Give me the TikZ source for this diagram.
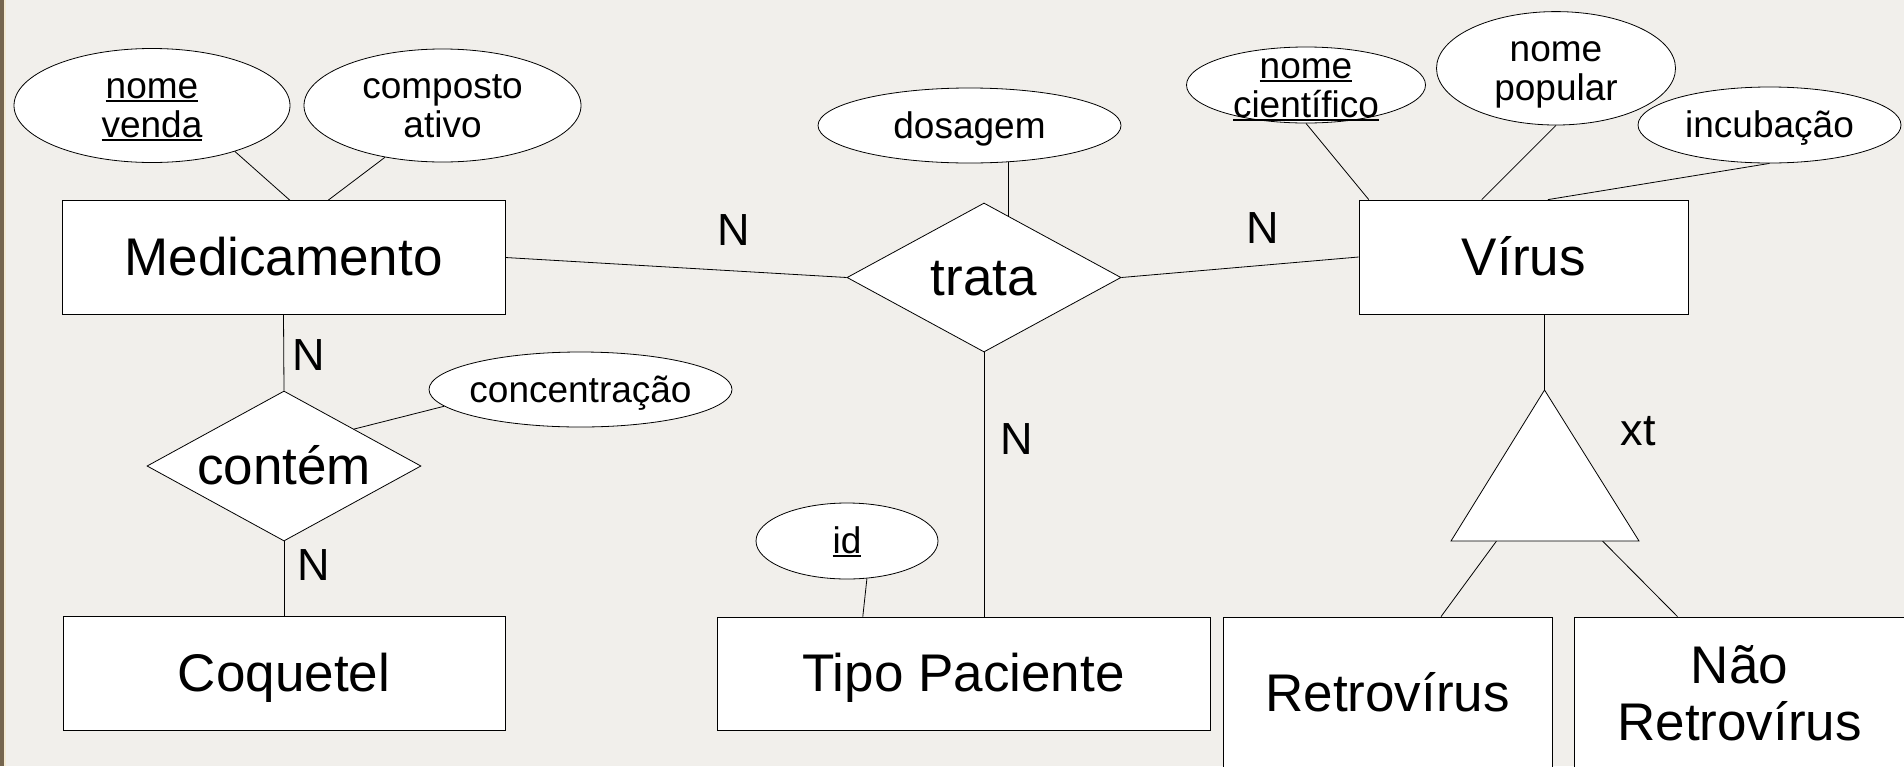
\documentclass[tikz,border=0pt]{standalone}
\usepackage{fontspec}
\setmainfont{Liberation Sans}
\usetikzlibrary{shapes.geometric,calc}
\pgfdeclarelayer{bg}
\pgfsetlayers{bg,main}
\definecolor{paper}{HTML}{F1EFEB}
\definecolor{strip}{HTML}{75654E}
\definecolor{cream}{HTML}{F4EAD2}
\newcommand\entfont{\fontsize{26.5pt}{29pt}\selectfont}
\newcommand\attrfont{\fontsize{18.5pt}{19.5pt}\selectfont}
\newcommand\cardfont{\fontsize{22.5pt}{26pt}\selectfont}
\newcommand\tstrut{\rule{0pt}{0.905em}}
\newcommand\bstrut{\rule[-0.212em]{0pt}{0.212em}}
\newcommand\myul[1]{\setbox0=\hbox{#1}\rlap{\rule[-0.09em]{\wd0}{0.05em}}\box0}
\begin{document}
\begin{tikzpicture}[x=0.5pt,y=-0.5pt,line width=0.5pt,
  ent/.style={draw, fill=white, inner sep=0pt, align=center, font=\entfont},
  attr/.style={ellipse, draw, fill=white, inner sep=0pt},
  atext/.style={font=\attrfont, align=center, inner sep=0pt},
  rel/.style={diamond, draw, fill=white, inner sep=0pt},
  rtext/.style={font=\entfont, inner sep=0pt},
  card/.style={font=\cardfont, inner sep=0pt}]
\useasboundingbox (0,0) rectangle (1904,766);
\begin{pgfonlayer}{bg}
\fill[paper] (0,0) rectangle (1904,766);
\fill[strip] (0,0) rectangle (4,766);
\fill[cream] (4,0) rectangle (6,766);
\end{pgfonlayer}

% entities
\node[ent, minimum width=221.5pt, minimum height=56.75pt] (med) at (283.5,257.5) {\tstrut Medicamento\bstrut};
\node[ent, minimum width=221pt, minimum height=57pt] (coq) at (284,673) {\tstrut Coquetel\bstrut};
\node[ent, minimum width=246.5pt, minimum height=56.5pt] (tipo) at (963.5,673.5) {\tstrut Tipo Paciente\bstrut};
\node[ent, minimum width=164.75pt, minimum height=57pt] (vir) at (1523.75,257) {\tstrut Vírus\bstrut};
\node[ent, minimum width=164.5pt, minimum height=76.5pt] (retro) at (1387.5,693.5) {\tstrut Retrovírus\bstrut};
\node[ent, minimum width=165.5pt, minimum height=76.5pt, font=\fontsize{26.5pt}{28.7pt}\selectfont] (nret) at (1739.5,693.5) {\tstrut Não\\Retrovírus\bstrut};

% relationships
\node[rel, minimum width=137pt, minimum height=74.5pt, label={[rtext]center:\tstrut trata\bstrut}] (trata) at (984,277.5) {};
\node[rel, minimum width=137pt, minimum height=75pt, label={[rtext]center:\tstrut contém\bstrut}] (contem) at (284,466) {};

% attributes
\node[attr, minimum width=138pt, minimum height=57pt, label={[atext]center:{\tstrut\myul{nome}\\\myul{venda}\bstrut}}] (nv) at (152,105.5) {};
\node[attr, minimum width=138.5pt, minimum height=56.5pt, label={[atext]center:{\tstrut composto\\ativo\bstrut}}] (ca) at (442.5,105.5) {};
\node[attr, minimum width=151.5pt, minimum height=37.5pt, label={[atext]center:{\tstrut concentração\bstrut}}] (conc) at (580.5,389.5) {};
\node[attr, minimum width=151.5pt, minimum height=37.5pt, label={[atext]center:{\tstrut dosagem\bstrut}}] (dos) at (969.5,125.5) {};
\node[attr, minimum width=119.5pt, minimum height=38pt, label={[atext]center:{\tstrut\myul{nome}\\\myul{científico}\bstrut}}] (nc) at (1306,85) {};
\node[attr, minimum width=119.5pt, minimum height=56.7pt, label={[atext]center:{\tstrut nome\\popular\bstrut}}] (np) at (1556,68.3) {};
\node[attr, minimum width=131.5pt, minimum height=38pt, label={[atext]center:{\tstrut incubação\bstrut}}] (inc) at (1769.5,125) {};
\node[attr, minimum width=91pt, minimum height=38pt, label={[atext]center:{\tstrut\myul{id}\bstrut}}] (id) at (847,541) {};

% specialization triangle
\coordinate (tA) at (1544.5,390);
\coordinate (tL) at (1451,541);
\coordinate (tR) at (1639,541);
\coordinate (tb1) at (1496.5,541);
\coordinate (tb2) at (1602.5,541);
\draw[fill=white] (tA) -- (tL) -- (tR) -- cycle;

% cardinalities
\node[card] (n1) at (309,355) {N};
\node[card] (n2) at (314,565) {N};
\node[card] (n3) at (733.5,230) {N};
\node[card] (n4) at (1263,228) {N};
\node[card] (n5) at (1017,439) {N};
\node[card] (xt) at (1638,431) {xt};

% connectors
\begin{pgfonlayer}{bg}
\draw (nv.-29) -- ([xshift=3.25pt]med.north);
\draw (ca.-138) -- ([xshift=22.25pt]med.north);
\draw (med.east) -- (trata.west);
\draw (trata.east) -- (vir.west);
\draw (med.south) -- (contem.north);
\draw (contem.south) -- (coq.north);
\draw ($(contem.north)!0.51!(contem.east)$) -- (conc.-173);
\coordinate (tdos) at ($(trata.north)!0.175!(trata.east)$);
\draw (tdos) -- (tdos |- dos.center);
\draw (trata.south) -- (trata.south |- tipo.north);
\draw (id.-62) -- ([xshift=-50.35pt]tipo.north);
\draw (nc.south) -- ([xshift=-77.5pt]vir.north);
\draw (np.south) -- ([xshift=-21pt]vir.north);
\draw (inc.south) -- ([xshift=12.1pt]vir.north);
\draw (tA) -- (tA |- vir.south);
\draw (tb1) -- ([xshift=26.75pt]retro.north);
\draw (tb2) -- ([xshift=-31pt]nret.north);
\end{pgfonlayer}
\end{tikzpicture}
\end{document}
